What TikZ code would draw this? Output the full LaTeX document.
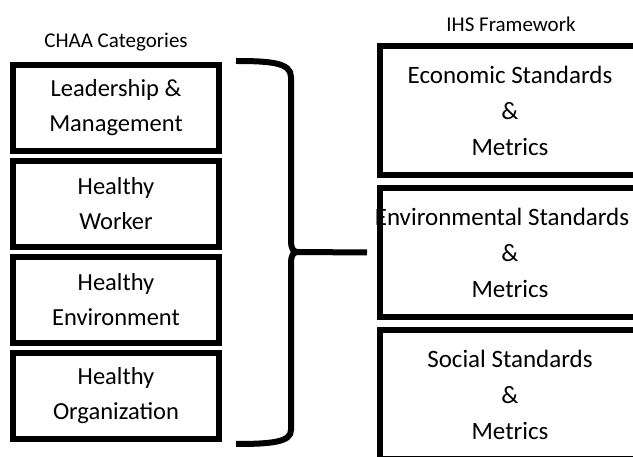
\documentclass[tikz,border=0pt]{standalone}
\usepackage{fontspec}
\setmainfont{Carlito}
\usetikzlibrary{positioning}

\def\bx{291}
\def\tipy{252}

\begin{document}
\begin{tikzpicture}[x=1pt,y=-1pt,
	catbox/.style={draw,line width=6pt,minimum width=206pt,minimum height=86pt,
		inner sep=0pt,align=center,font=\fontsize{24.5}{35}\selectfont},
	ihsbox/.style={draw,line width=6pt,minimum width=260pt,minimum height=129pt,
		inner sep=0pt,align=center,font=\fontsize{25}{36}\selectfont},
	heading/.style={font=\fontsize{21}{24}\selectfont},
	brace/.style={line width=6pt}]
\clip (0,0) rectangle (633,457);
% left column
\node[heading] (chaa) at (116,42) {CHAA Categories};
\node[catbox] (cat1) at (116,108) {Leadership \&\\Management};
\node[catbox,below=4pt of cat1] (cat2) {Healthy\\Worker};
\node[catbox,below=4pt of cat2] (cat3) {Healthy\\Environment};
\node[catbox,below=4pt of cat3] (cat4) {Healthy\\Organization};
% right column
\node[heading] (ihs) at (511,24) {IHS Framework};
\node[ihsbox] (ihs1) at (510,110.5) {Economic Standards\\\&\\Metrics};
\node[ihsbox,below=7pt of ihs1] (ihs2) {\hspace*{-16pt}Environmental Standards\\\&\\Metrics};
\node[ihsbox,below=7pt of ihs2] (ihs3) {Social Standards\\\&\\Metrics};
% brace
\coordinate (btop) at (236,61);
\coordinate (bbot) at (236,444);
\coordinate (tip) at (298,\tipy);
\draw[brace] (btop) .. controls (272,61) and (\bx,63) .. (\bx,77) -- (\bx,240)
	.. controls (\bx,249) and (293,\tipy) .. (tip)
	.. controls (293,\tipy) and (\bx,255) .. (\bx,264) -- (\bx,430)
	.. controls (\bx,442) and (272,444) .. (bbot);
\draw[brace] (tip) -- ([xshift=-10pt]ihs2.west);
\end{tikzpicture}
\end{document}
